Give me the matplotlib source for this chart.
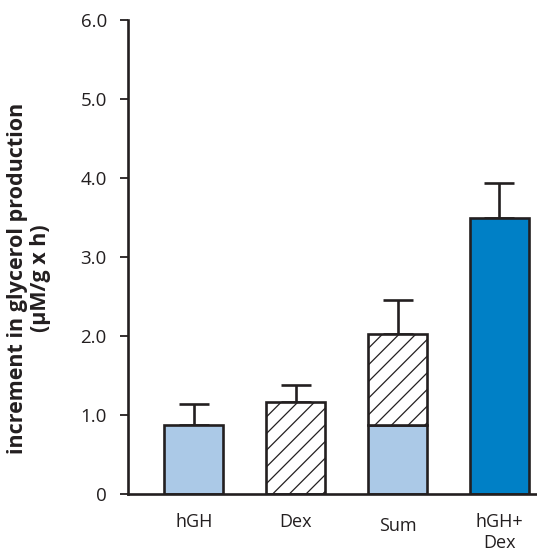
import matplotlib
matplotlib.use('Agg')
import matplotlib.pyplot as plt
import numpy as np

plt.rcParams['font.family'] = ['Open Sans', 'DejaVu Sans']
plt.rcParams['hatch.linewidth'] = 0.9
plt.rcParams['hatch.color'] = '#231f20'

# data
groups = ['hGH', 'Dex', 'Sum', 'hGH+\nDex']
hgh_part = [0.87, 0.0, 0.87, 0.0]      # light blue (hGH effect)
dex_part = [0.0, 1.16, 1.16, 0.0]      # hatched (Dex effect)
combined = [0.0, 0.0, 0.0, 3.50]       # dark blue (hGH + Dex)
errors = [0.27, 0.22, 0.43, 0.44]
yticks = [0, 1, 2, 3, 4, 5, 6]
ytick_labels = ['0', '1.0', '2.0', '3.0', '4.0', '5.0', '6.0']

edge = '#231f20'
light_blue = '#abc9e7'
dark_blue = '#0080c6'

fig = plt.figure(figsize=(5.37, 5.53), dpi=100)
ax = fig.add_axes([0.2378, 0.1067, 0.7622, 0.8571])

x = np.arange(len(groups))
w = 0.58
lw = 1.9

hgh = np.array(hgh_part)
dex = np.array(dex_part)
comb = np.array(combined)

ax.bar(x[hgh > 0], hgh[hgh > 0], w, color=light_blue, edgecolor=edge, linewidth=lw, zorder=2)
ax.bar(x[dex > 0], dex[dex > 0], w, bottom=hgh[dex > 0], color='white', edgecolor=edge,
       hatch='//', linewidth=lw, zorder=2)
ax.bar(x[comb > 0], comb[comb > 0], w, color=dark_blue, edgecolor=edge, linewidth=lw, zorder=2)

tops = hgh + dex + comb
ax.errorbar(x, tops, yerr=[np.zeros(len(x)), errors], fmt='none', ecolor=edge,
            elinewidth=lw, capsize=10.5, capthick=lw, zorder=1)

ax.set_xlim(-0.65, 3.37)
ax.set_ylim(0, 6)
ax.set_yticks(yticks)
ax.set_yticklabels(ytick_labels, fontsize=13.5, color='#231f20')
ax.set_xticks(x)
ax.set_xticklabels(groups, fontsize=13, color='#231f20', linespacing=1.2)
ax.tick_params(axis='x', length=0, pad=14)
ax.tick_params(axis='y', length=6, width=1.3, color=edge, pad=9, direction='out')
# "Sum" sits a touch lower in the original
ax.get_xticklabels()[2].set_y(-0.007)

for s in ['top', 'right']:
    ax.spines[s].set_visible(False)
for s in ['left', 'bottom']:
    ax.spines[s].set_linewidth(1.9)
    ax.spines[s].set_color(edge)

fig.text(29 / 537, 1 - 278 / 553, 'increment in glycerol production\n(µM/g x h)',
         rotation=90, ha='center', va='center', multialignment='center',
         fontsize=15.5, fontweight='bold', color='#231f20', linespacing=1.15)

fig.savefig('out.png', dpi=100)
